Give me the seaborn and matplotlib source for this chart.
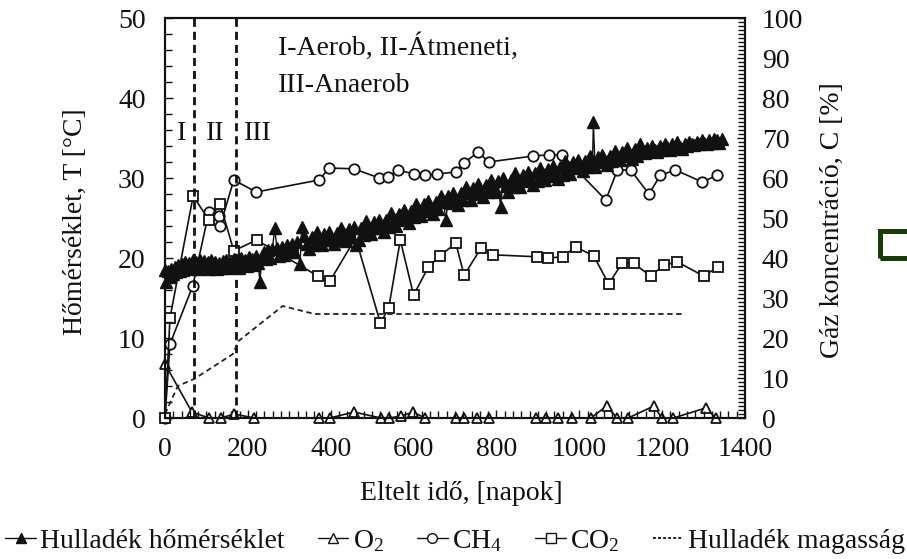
import matplotlib
matplotlib.use("Agg")
import matplotlib.pyplot as plt
import seaborn as sns
from matplotlib.lines import Line2D
from matplotlib.patches import Rectangle
from matplotlib.ticker import MultipleLocator

# Waste temperature [°C] (left axis)
temp_day = [0, 3, 7, 11, 15, 19, 23, 27, 31, 35, 40, 44, 49, 53, 58, 62, 67, 71, 76, 80,
            85, 89, 94, 98, 103, 107, 112, 116, 121, 125, 130, 134, 139, 143, 148, 152, 157,
            161, 166, 170, 175, 179, 184, 188, 193, 197, 202, 206, 211, 215, 220, 225, 229,
            234, 239, 244, 249, 254, 259, 265, 270, 276, 282, 288, 294, 300, 306, 312, 318,
            326, 330,
            336, 342, 348, 354, 360, 366, 372, 378, 384, 390, 396, 402, 408, 414, 420, 426,
            432, 438, 444, 450, 456, 462, 468, 474, 480, 486, 492, 498, 504, 510, 516, 522,
            528, 534, 540, 546, 552, 558, 564, 570, 576, 582, 588, 594, 600, 606, 612, 618,
            624, 630, 636, 642, 648, 654, 660, 666, 672, 678, 684, 690, 696, 702, 708, 714,
            720, 726, 732, 738, 744, 750, 756, 762, 768, 774, 780, 786, 792, 798, 804, 810,
            816, 822, 828, 834, 840, 846, 852, 858, 864, 870, 876, 882, 888, 894, 900, 906,
            912, 918, 924, 930, 936, 942, 948, 954, 960, 966, 972, 978, 984, 990, 996, 1002,
            1008, 1014, 1020, 1026, 1032, 1034, 1038, 1044, 1050, 1056, 1062, 1068, 1074,
            1080, 1086, 1092, 1098, 1104, 1110, 1116, 1122, 1128, 1134, 1140, 1146, 1152,
            1158, 1164, 1170, 1176, 1182, 1188, 1194, 1200, 1206, 1212, 1218, 1224, 1230,
            1236, 1242, 1248, 1254, 1260, 1266, 1272, 1278, 1284, 1290, 1296, 1302, 1308,
            1314, 1320, 1326, 1332, 1338, 1344]
temp_c = [18.5, 17.0, 18.4, 17.6, 18.6, 18.0, 18.9, 18.2, 19.1, 18.4, 19.3, 18.5, 19.5, 18.7,
          19.4, 18.6, 19.7, 18.9, 19.5, 18.6, 19.8, 19.0, 19.6, 18.7, 19.5, 18.6, 19.7, 18.9,
          19.5, 18.6, 19.4, 18.7, 19.6, 18.9, 19.7, 18.7, 19.5, 18.9, 19.9, 19.0, 19.7, 18.8,
          20.0, 19.1, 19.8, 19.0, 20.1, 19.2, 19.9, 19.1, 20.3, 19.4, 17.0, 20.2, 20.8, 19.9,
          21.0, 20.0, 21.1, 23.7, 21.2, 20.2, 21.4, 20.4, 21.6, 20.7, 21.8, 20.8, 22.0, 19.2,
          23.9,
          22.8, 21.8, 21.1, 22.6, 21.6, 23.3, 22.4, 21.6, 23.0, 22.2, 23.3, 22.3, 21.7, 23.1,
          22.2, 23.8, 23.0, 22.1, 23.6, 22.8, 23.9, 21.6, 22.3, 23.8, 22.9, 24.6, 23.8, 23.0,
          24.5, 23.7, 24.8, 23.8, 23.2, 24.7, 23.9, 25.6, 24.8, 24.0, 25.5, 24.8, 26.0, 25.0,
          24.4, 25.9, 25.1, 26.8, 26.0, 25.2, 26.7, 25.9, 27.1, 26.1, 25.5, 27.0, 26.1, 27.8,
          27.0, 24.8, 27.7, 26.9, 28.1, 27.2, 26.6, 28.1, 27.2, 28.9, 28.1, 27.3, 28.8, 28.0,
          29.2, 28.2, 27.6, 29.1, 28.2, 29.8, 29.0, 28.2, 29.6, 26.4, 30.0, 29.0, 28.3, 29.8,
          28.9, 30.6, 29.7, 28.9, 30.4, 29.6, 30.7, 29.7, 29.1, 30.6, 29.6, 31.3, 30.5, 29.7,
          31.1, 30.3, 31.5, 30.5, 29.9, 31.4, 30.4, 32.1, 31.3, 30.5, 32.0, 31.2, 32.3, 31.4,
          30.9, 32.1, 31.4, 32.7, 32.1, 37.0, 31.4, 32.6, 32.0, 32.9, 32.1, 31.6, 32.8,
          32.1, 33.4, 32.8, 32.2, 33.3, 32.7, 33.7, 32.9, 32.4, 33.6, 32.8, 34.2, 33.5,
          33.1, 33.8, 33.4, 34.0, 33.5, 33.2, 34.0, 33.5, 34.3, 33.9, 33.5, 34.3, 33.9,
          34.5, 33.9, 33.6, 34.3, 34.0, 34.5, 34.3, 34.1, 34.5, 34.3, 34.7, 34.4, 34.2,
          34.7, 34.4, 34.9, 34.7, 34.4, 34.9]

# Waste height (left axis scale)
height_day = [0, 31, 71, 164, 177, 284, 361, 1256]
height_val = [0.5, 4.0, 4.9, 8.0, 9.6, 14.0, 13.0, 13.0]

# Gas concentrations [%] (right axis)
o2_day = [0, 65, 106, 135, 167, 215, 372, 398, 456, 521, 541, 570, 599, 627, 703, 722, 753,
          782, 895, 920, 948, 982, 1028, 1066, 1091, 1118, 1180, 1199, 1227, 1305, 1330]
o2_pct = [13.5, 1.5, 0, 0, 1, 0, 0, 0, 1.5, 0, 0, 0.5, 1.5, 0, 0, 0, 0,
          0, 0, 0, 0, 0, 0, 3, 0, 0, 3, 0, 0, 2.5, 0]

ch4_day = [0, 12, 67, 106, 130, 133, 166, 220, 372, 396, 456, 517, 538, 562, 601, 628, 656,
           702, 721, 756, 781, 889, 927, 958, 1064, 1092, 1124, 1168, 1196, 1232, 1297, 1333]
ch4_pct = [0, 18.5, 33, 51.5, 50.5, 48, 59.5, 56.5, 59.5, 62.5, 62.3, 60, 60.3, 62, 61, 60.7,
           61, 61.5, 63.7, 66.5, 64, 65.5, 65.8, 65.8, 54.5, 62, 62, 56, 60.7, 62, 59, 60.7]

co2_day = [0, 12, 68, 106, 133, 166, 221, 369, 398, 460, 520, 540, 568, 600, 636, 663, 702,
           722, 763, 791, 899, 925, 960, 991, 1035, 1071, 1103, 1131, 1172, 1204, 1237, 1300, 1336]
co2_pct = [0, 25, 55.5, 49.5, 53.5, 41.8, 44.5, 35.5, 34.2, 45, 23.7, 27.5, 44.5, 30.7, 37.8,
           40.5, 43.7, 35.7, 42.5, 40.8, 40.3, 40, 40.3, 42.8, 40.5, 33.5, 38.7, 38.7, 35.5,
           38.2, 39, 35.5, 37.8]

# Phase boundaries and labels
phase_bounds = [71, 171]
phase_labels = ["I", "II", "III"]
phase_label_day = [41, 121, 224]

sns.set_style("ticks")
plt.rcParams["font.family"] = ["Liberation Serif", "DejaVu Serif"]
plt.rcParams["mathtext.fontset"] = "custom"
plt.rcParams["mathtext.rm"] = "Liberation Serif"
plt.rcParams["mathtext.it"] = "Liberation Serif:italic"
FS = 20
INK = "#111111"

W, H = 907, 559
fig = plt.figure(figsize=(W / 100, H / 100), dpi=100)
ax = fig.add_axes([165 / W, 1 - 418 / H, 580 / W, 400 / H])
ax2 = ax.twinx()
# temperature layer drawn above the gas layer
ax.set_zorder(ax2.get_zorder() + 1)
ax.patch.set_visible(False)

open_kw = dict(color=INK, lw=1.2, markersize=7.5, markerfacecolor="white",
               markeredgecolor=INK, markeredgewidth=1.3, estimator=None, sort=False,
               clip_on=False)
sns.lineplot(x=o2_day, y=o2_pct, ax=ax2, marker="^", zorder=4, **open_kw)
sns.lineplot(x=ch4_day, y=ch4_pct, ax=ax2, marker="o", zorder=5, **open_kw)
sns.lineplot(x=co2_day, y=co2_pct, ax=ax2, marker="s", zorder=6, **open_kw)

for xb in phase_bounds:
    ax.axvline(xb, color=INK, lw=2.0, linestyle=(0, (2.9, 1.8)), zorder=1)

sns.lineplot(x=height_day, y=height_val, ax=ax, color="#222222", lw=1.3,
             linestyle=(0, (3.0, 2.0)), estimator=None, sort=False, zorder=2)
sns.lineplot(x=temp_day, y=temp_c, ax=ax, color=INK, lw=1.0, marker="^", markersize=9,
             markerfacecolor=INK, markeredgecolor=INK, markeredgewidth=1.0,
             estimator=None, sort=False, zorder=3, clip_on=False)

ax.set_xlim(0, 1400)
ax.set_ylim(0, 50)
ax2.set_ylim(0, 100)

ax.xaxis.set_major_locator(MultipleLocator(200))
ax.xaxis.set_minor_locator(MultipleLocator(20))
ax.yaxis.set_major_locator(MultipleLocator(10))
ax.yaxis.set_minor_locator(MultipleLocator(2))
ax2.yaxis.set_major_locator(MultipleLocator(10))
ax2.yaxis.set_minor_locator(MultipleLocator(1))

ax.tick_params(which="both", direction="in", color=INK, width=1.0, labelsize=FS,
               labelcolor=INK, top=False, right=False)
ax.tick_params(which="major", length=6, pad=14)
ax.tick_params(which="minor", length=5)
ax2.tick_params(which="both", direction="in", color=INK, width=1.0, labelsize=FS,
                labelcolor=INK)
ax2.tick_params(which="major", length=6, pad=12)
ax2.tick_params(which="minor", length=5)

for a in (ax, ax2):
    for s in a.spines.values():
        s.set_linewidth(1.5)
        s.set_color(INK)

ax.set_xlabel("Eltelt idő, [napok]", fontsize=FS, color=INK)
ax.xaxis.set_label_coords((461 - 165) / 580, (418 - 494) / 400)
ax.xaxis.label.set(va="center", ha="center")
ax.set_ylabel("Hőmérséklet, T [°C]", fontsize=FS, color=INK)
ax.yaxis.label.set(va="center", ha="center", rotation_mode="anchor")
ax.yaxis.set_label_coords((75 - 165) / 580, 0.49)
ax2.set_ylabel("Gáz koncentráció, C [%]", fontsize=FS, color=INK, rotation=90)
ax2.yaxis.label.set(va="center", ha="center", rotation_mode="anchor")
ax2.yaxis.set_label_coords((832 - 165) / 580, 0.495)

ax.text(273, 46.4, "I-Aerob, II-Átmeneti,", fontsize=FS, color=INK, ha="left", va="center")
ax.text(273, 41.5, "III-Anaerob", fontsize=FS, color=INK, ha="left", va="center")
for d, lab in zip(phase_label_day, phase_labels):
    ax.text(d, 35.5, lab, fontsize=FS, color=INK, ha="center", va="center")

handles = [
    Line2D([], [], color=INK, lw=1.0, marker="^", markersize=7, markerfacecolor=INK,
           markeredgecolor=INK),
    Line2D([], [], color=INK, lw=1.0, marker="^", markersize=7, markerfacecolor="white",
           markeredgecolor=INK),
    Line2D([], [], color=INK, lw=1.0, marker="o", markersize=7, markerfacecolor="white",
           markeredgecolor=INK),
    Line2D([], [], color=INK, lw=1.0, marker="s", markersize=7, markerfacecolor="white",
           markeredgecolor=INK),
    Line2D([], [], color=INK, lw=1.3, linestyle=(0, (1.6, 1.2))),
]
labels = ["Hulladék hőmérséklet", r"O$_2$", r"CH$_4$", r"CO$_2$", "Hulladék magasság"]
fig.legend(handles, labels, loc="center", bbox_to_anchor=(455 / W, 1 - 541 / H),
           ncol=5, frameon=False, fontsize=FS, handlelength=1.1, handletextpad=0.15,
           columnspacing=1.2, borderaxespad=0, borderpad=0, labelcolor=INK)

# Partial frame marker at the right edge of the canvas
fig.patches.append(Rectangle((879.5 / W, 1 - 257.5 / H), 40 / W, 27 / H,
                             transform=fig.transFigure, fill=False,
                             edgecolor="#1b3a0c", lw=3.6, clip_on=False))

fig.savefig("out.png", dpi=100)
